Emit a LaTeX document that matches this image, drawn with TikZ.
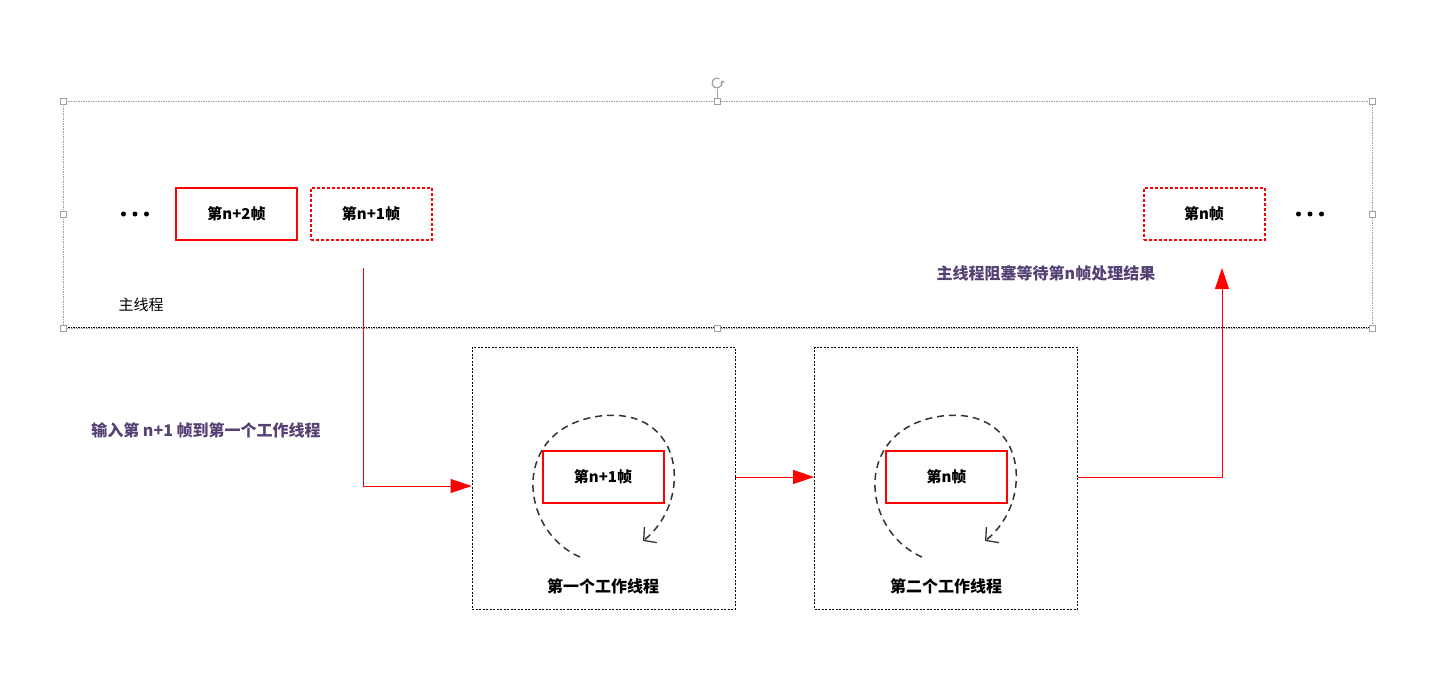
\documentclass[tikz,border=0pt]{standalone}
\usepackage{fontspec}
\setmainfont{Noto Sans CJK SC}
\usetikzlibrary{arrows.meta}
\definecolor{lbl}{RGB}{85,65,115}
\definecolor{hgray}{RGB}{160,160,160}
\tikzset{
  frame/.style={draw=red, line width=2pt, minimum width=121pt, minimum height=52pt, inner sep=0pt, font=\bfseries\fontsize{15}{15}\selectfont},
  frameD/.style={frame, dash pattern=on 3pt off 2pt},
  worker/.style={draw=black, line width=0.8pt, dash pattern=on 2pt off 1.5pt, minimum width=263pt, minimum height=262pt, inner sep=0pt},
  redline/.style={draw=red, line width=0.9pt},
  redarrow/.style={redline, -{Triangle[length=21pt,width=14pt]}},
  loop/.style={draw=black!80, line width=1.5pt, dash pattern=on 7pt off 5pt, -{Straight Barb[length=9pt,width=20pt,line width=1.3pt]}},
  handle/.style={draw=hgray, fill=white, line width=0.6pt, minimum size=6pt, inner sep=0pt},
  purple/.style={text=lbl, font=\bfseries\fontsize{16}{16}\selectfont},
  wlabel/.style={font=\bfseries\fontsize{16}{16}\selectfont}
}
\begin{document}
\begin{tikzpicture}[x=1pt,y=-1pt]
\useasboundingbox (0,0) rectangle (1434,674);
% main thread box
\draw[hgray, line width=0.8pt, dash pattern=on 1.5pt off 1pt] (63,101) rectangle (1372,328);
\draw[black, line width=0.8pt, dash pattern=on 1.5pt off 1pt] (63,327) -- (1372,327);
\draw[hgray, line width=0.6pt] (717,101) -- (717,89);
\draw[hgray, line width=1.2pt, -{Straight Barb[length=2pt,width=4pt]}] (717,83) ++(60:5pt) arc[start angle=60, end angle=390, radius=5pt];
\foreach \p in {(63,101),(717,101),(1372,101),(63,214),(1372,214),(63,328),(717,328),(1372,328)}
  \node[handle] at \p {};
% dots
\foreach \x in {-11.5,0,11.5} {
  \fill (135+\x,214) circle (2.5pt);
  \fill (1310+\x,214) circle (2.5pt);
}
% frames in main thread
\node[frame] (f2) at (236.5,214) {第n+2帧};
\node[frameD] (f1) at (371,214) {第n+1帧};
\node[frameD] (fn) at (1204,214) {第n帧};
\node[font=\fontsize{15}{15}\selectfont] (mt) at (141,305) {主线程};
\node[purple] (wait) at (1046,273) {主线程阻塞等待第n帧处理结果};
\node[purple] (inp) at (206,430) {输入第 n+1 帧到第一个工作线程};
% worker threads
\node[worker] (w1) at (603.5,478) {};
\node[worker] (w2) at (946,478) {};
\node[frame] (w1f) at (603,477) {第n+1帧};
\node[frame] (w2f) at (946.5,477) {第n帧};
\node[wlabel] (w1l) at (603,586) {第一个工作线程};
\node[wlabel] (w2l) at (946,586) {第二个工作线程};
% loops
\draw[loop] (580,557) .. controls (518,530) and (510,428) .. (600,416) .. controls (684,406) and (694,500) .. (643,541);
\draw[loop] (922,557) .. controls (860,530) and (852,428) .. (942,416) .. controls (1026,406) and (1036,500) .. (985,541);
% connectors
\coordinate (s1) at (363,268);
\coordinate (e1) at (w1.west |- 0,486);
\draw[redarrow] (s1) |- (e1);
\draw[redarrow] (w1.east |- 0,477) -- (w2.west |- 0,477);
\coordinate (t3) at (1222,268);
\draw[redarrow] (w2.east |- 0,477) -| (t3);
\end{tikzpicture}
\end{document}
